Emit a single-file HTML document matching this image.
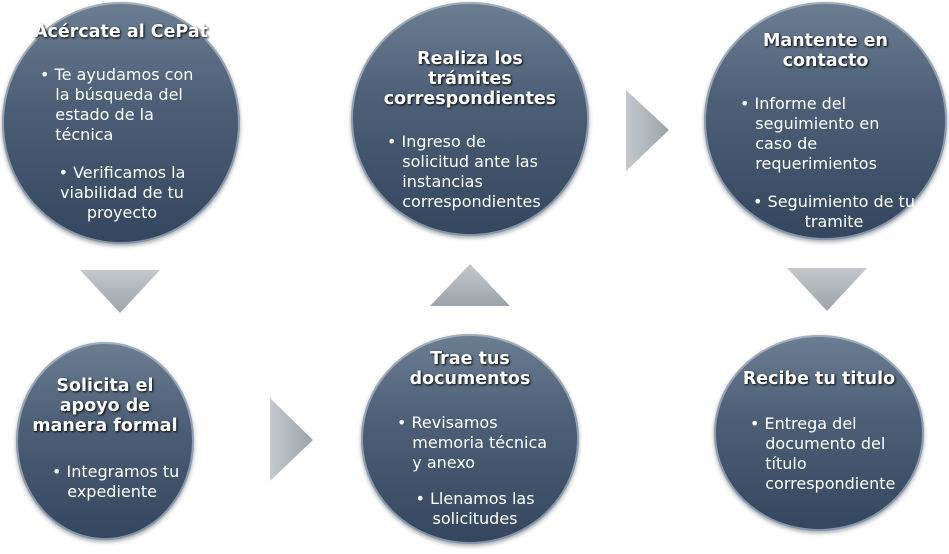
<!DOCTYPE html>
<html><head><meta charset="utf-8"><style>
body{margin:0;width:949px;height:554px;background:#fff;position:relative;overflow:hidden;font-family:"DejaVu Sans","Liberation Sans",sans-serif;}
.c{position:absolute;border-radius:50%;background:linear-gradient(#6c7e92 0%,#4d6078 40%,#34465e 100%);box-shadow:inset 0 0 0 2px rgba(200,215,230,.55),0 2px 4px rgba(0,0,0,.35);color:#fff;box-sizing:border-box;}
.t{position:absolute;left:-20px;right:-20px;text-align:center;font-weight:bold;font-size:17.5px;line-height:20px;text-shadow:1px 1px 2px #000;white-space:nowrap;}
.b{position:absolute;font-size:16px;line-height:20px;white-space:nowrap;}
svg{position:absolute;left:0;top:0}
</style></head><body>
<svg width="949" height="554">
<defs><linearGradient id="g" x1="0" y1="0" x2="0" y2="1"><stop offset="0" stop-color="#c4c8cc"/><stop offset="1" stop-color="#9da3aa"/></linearGradient>
<linearGradient id="h" x1="0" y1="0" x2="1" y2="0"><stop offset="0" stop-color="#c4c8cc"/><stop offset="1" stop-color="#9da3aa"/></linearGradient></defs>
<polygon points="80,270 160,270 120,313" fill="url(#g)"/>
<polygon points="270,398 313,440 270,481" fill="url(#h)"/>
<polygon points="430,306 510,306 470,264" fill="url(#g)"/>
<polygon points="626,90 669,130 626,171" fill="url(#h)"/>
<polygon points="787,268 867,268 827,311" fill="url(#g)"/>
</svg>
<div class="c" style="left:2px;top:2px;width:238px;height:242px">
<div class="t" style="top:20px">Acércate al CePat</div>
<div class="b" style="left:38px;top:63px">•&nbsp;Te ayudamos con<br>&nbsp;&nbsp;&nbsp;la búsqueda del<br>&nbsp;&nbsp;&nbsp;estado de la<br>&nbsp;&nbsp;&nbsp;técnica</div>
<div class="b" style="left:20px;top:161px;width:200px;text-align:center">• Verificamos la<br>viabilidad de tu<br>proyecto</div>
</div>
<div class="c" style="left:16px;top:342px;width:178px;height:198px">
<div class="t" style="top:34px">Solicita el<br>apoyo de<br>manera formal</div>
<div class="b" style="left:36px;top:120px">•&nbsp;Integramos tu<br>&nbsp;&nbsp;&nbsp;expediente</div>
</div>
<div class="c" style="left:351px;top:2px;width:238px;height:234px">
<div class="t" style="top:47px">Realiza los<br>trámites<br>correspondientes</div>
<div class="b" style="left:36px;top:130px">•&nbsp;Ingreso de<br>&nbsp;&nbsp;&nbsp;solicitud ante las<br>&nbsp;&nbsp;&nbsp;instancias<br>&nbsp;&nbsp;&nbsp;correspondientes</div>
</div>
<div class="c" style="left:361px;top:334px;width:218px;height:210px">
<div class="t" style="top:15px">Trae tus<br>documentos</div>
<div class="b" style="left:36px;top:79px">•&nbsp;Revisamos<br>&nbsp;&nbsp;&nbsp;memoria técnica<br>&nbsp;&nbsp;&nbsp;y anexo</div>
<div class="b" style="left:24px;top:155px;width:180px;text-align:center">• Llenamos las<br>solicitudes</div>
</div>
<div class="c" style="left:704px;top:2px;width:243px;height:238px">
<div class="t" style="top:29px">Mantente en<br>contacto</div>
<div class="b" style="left:36px;top:92px">•&nbsp;Informe del<br>&nbsp;&nbsp;&nbsp;seguimiento en<br>&nbsp;&nbsp;&nbsp;caso de<br>&nbsp;&nbsp;&nbsp;requerimientos</div>
<div class="b" style="left:30px;top:190px;width:200px;text-align:center">• Seguimiento de tu<br>tramite</div>
</div>
<div class="c" style="left:714px;top:335px;width:210px;height:196px">
<div class="t" style="top:34px">Recibe tu titulo</div>
<div class="b" style="left:36px;top:79px">•&nbsp;Entrega del<br>&nbsp;&nbsp;&nbsp;documento del<br>&nbsp;&nbsp;&nbsp;título<br>&nbsp;&nbsp;&nbsp;correspondiente</div>
</div>
</body></html>
